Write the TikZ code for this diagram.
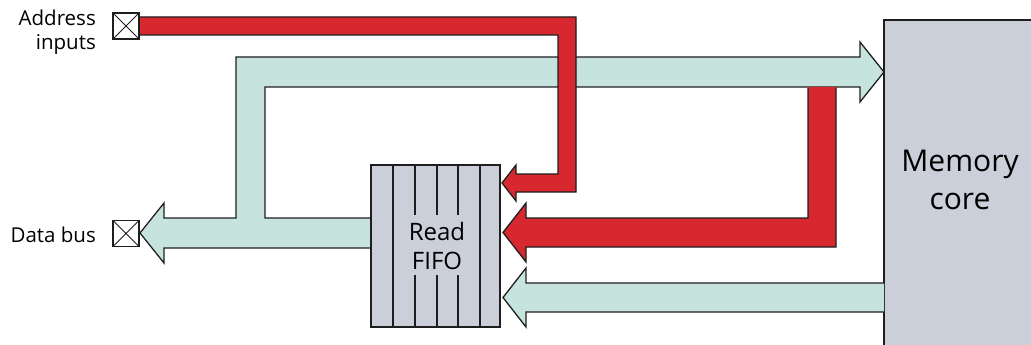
\documentclass[tikz,border=0pt]{standalone}
\usepackage{fontspec}
\setmainfont{Open Sans}
\definecolor{busred}{RGB}{215,40,47}
\definecolor{busgreen}{RGB}{198,227,221}
\definecolor{blockgrey}{RGB}{203,207,218}
\definecolor{edge}{RGB}{30,30,30}
\tikzset{
  busline/.style={draw=edge,line width=1.3pt,line join=miter},
  greenbus/.style={busline,fill=busgreen},
  redbus/.style={busline,fill=busred},
  pinbox/.style={draw=edge,line width=1.2pt,fill=white,minimum width=26pt,minimum height=26pt,inner sep=0pt,outer sep=0pt,
    path picture={\draw[edge,line width=0.9pt] (path picture bounding box.south west)--(path picture bounding box.north east)
      (path picture bounding box.north west)--(path picture bounding box.south east);}},
  lbl/.style={inner sep=0pt,font=\fontsize{20.5}{24}\selectfont,align=right}
}
\begin{document}
\begin{tikzpicture}[x=1pt,y=-1pt]
\useasboundingbox (0,0) rectangle (1031,345);
% memory core
\node[draw=edge,line width=1.3pt,fill=blockgrey,minimum width=160pt,minimum height=340pt,anchor=north west,inner sep=0pt,outer sep=0pt] (mem) at (884,20) {};
\node[inner sep=0pt,font=\fontsize{30}{38}\selectfont,align=center] (memtext) at (960,180) {Memory\\core};
% green upper bus (data to memory and to data bus)
\draw[greenbus] (140,233) -- (164,203) -- (164,218) -- (236,218) -- (236,57) -- (860,57) -- (860,42) -- (mem.west |- 0,72) -- (860,102) -- (860,87) -- (265,87) -- (265,218) -- (372,218) -- (372,248) -- (164,248) -- (164,263) -- cycle;
% red address bus
\draw[redbus] (139,17) -- (576,17) -- (576,192) -- (516,192) -- (516,201) -- (502,183) -- (516,165) -- (516,174) -- (558,174) -- (558,35) -- (139,35) -- cycle;
% red from memory to FIFO
\fill[busred] (808,87) -- (808,218) -- (526,218) -- (526,203) -- (503,232.5) -- (526,262) -- (526,247) -- (836,247) -- (836,87) -- cycle;
\draw[busline] (808,87.6) -- (808,218) -- (526,218) -- (526,203) -- (503,232.5) -- (526,262) -- (526,247) -- (836,247) -- (836,87.6);
% green lower bus from memory to FIFO
\draw[greenbus] (mem.west |- 0,283) -- (526,283) -- (526,268) -- (503,297.5) -- (526,327) -- (526,312) -- (mem.west |- 0,312);
% FIFO
\node[draw=edge,line width=1.3pt,fill=blockgrey,minimum width=129pt,minimum height=162pt,anchor=north west,inner sep=0pt,outer sep=0pt] (fifo) at (371,165) {};
\foreach \xx in {393,480}{\draw[edge,line width=1.2pt] (\xx,165) -- (\xx,327);}
\foreach \xx in {415,437,458}{\draw[edge,line width=1.2pt] (\xx,165) -- (\xx,215) (\xx,275) -- (\xx,327);}
\node[inner sep=0pt,font=\fontsize{24}{29}\selectfont,align=center] (fifotext) at (437,246) {Read\\FIFO};
% pins
\node[pinbox] (addrpin) at (126,26) {};
\node[pinbox] (datapin) at (126,233.5) {};
\node[lbl,anchor=east] (addrlbl) at (96,32) {Address\\inputs};
\node[lbl,anchor=east] (datalbl) at (96,235) {Data bus};
\end{tikzpicture}
\end{document}
